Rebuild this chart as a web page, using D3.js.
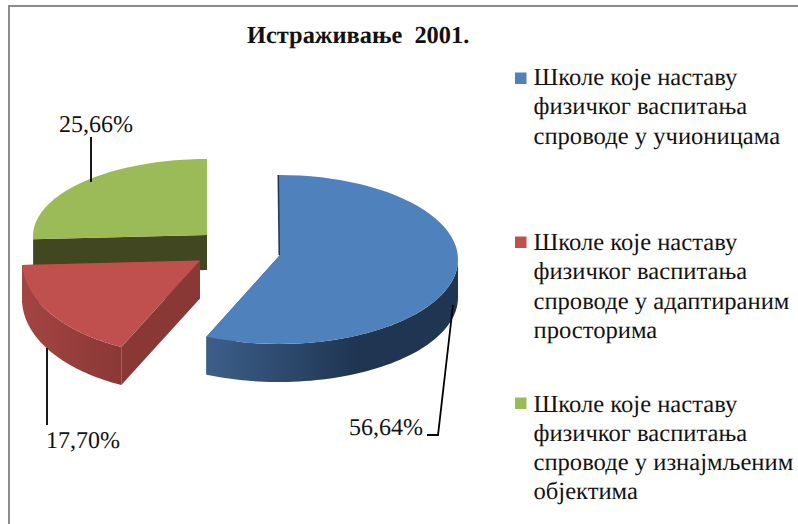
<!DOCTYPE html>
<html><head><meta charset="utf-8">
<script src="https://cdn.jsdelivr.net/npm/d3@7"></script>
<style>html,body{margin:0;padding:0;background:#fff}svg{display:block}text{font-family:"Liberation Serif","Times New Roman",serif;fill:#111;text-rendering:geometricPrecision}</style>
</head><body><svg id="c" width="798" height="524"></svg>
<script>
const chartTitle = "Истраживање  2001.";
const categories = ["Учионице", "Адаптирани простори", "Изнајмљени објекти"];
const seriesValues = [56.64, 17.70, 25.66];
const valueLabels = ["56,64%", "17,70%", "25,66%"];
const legendLines = [
  ["Школе које наставу", "физичког васпитања", "спроводе у учионицама"],
  ["Школе које наставу", "физичког васпитања", "спроводе у адаптираним", "просторима"],
  ["Школе које наставу", "физичког васпитања", "спроводе у изнајмљеним", "објектима"]
];
const topColors = ["#4f81bd", "#c0504d", "#9bbb59"];
const cutColors = ["#1f3552", "#8a3836", "#404721"];

const geom = [
  {cx:279, cy:259.5, apexX:280, apexY:255, rx:179, ry:84.5, depth:38, sliver:3},
  {cx:189, cy:261, apexX:200, apexY:260.5, rx:167, ry:94, depth:38, sliver:0},
  {cx:207, cy:236, apexX:207, apexY:235, rx:174, ry:77, depth:35, sliver:0}
];
const rimStops = [
  [["0%","#3c5f8a"],["60%","#1f3552"],["100%","#1f3552"]],
  [["0%","#a34542"],["100%","#8a3836"]],
  [["0%","#404721"],["100%","#404721"]]
];
const legendY = [78.5, 242.5, 403.5];
const legendTextY = [85, 250, 411.5];
const leaders = [
  [[453,305],[438,435],[427,435]],
  [[47,348],[47,425]],
  [[91,137],[91,182]]
];
const labelPos = [[349,435],[46,448],[59,132]];

const svg = d3.select("#c");
svg.append("rect").attr("x",9).attr("y",6).attr("width",800).attr("height",540)
  .attr("fill","#fff").attr("stroke","#8c8c8c").attr("stroke-width",2);

const pie = d3.pie().sort(null).value(d=>d);
const arcs = pie(seriesValues);
const line = d3.line();
const defs = svg.append("defs");
const pt = (g,a,dy=0)=>[g.cx+g.rx*Math.sin(a), g.cy-g.ry*Math.cos(a)+dy];
const apex = (g,dy=0)=>[g.apexX,g.apexY+dy];
const sweep = (g,a0,a1,dy=0)=>d3.range(0,61).map(i=>pt(g,a0+(a1-a0)*i/60,dy));

rimStops.forEach((st,i)=>{
  const lg = defs.append("linearGradient").attr("id","rim"+i);
  st.forEach(s=>lg.append("stop").attr("offset",s[0]).attr("stop-color",s[1]));
});

// back-to-front: green, blue, red
[2,0,1].forEach(i=>{
  const g = geom[i], a = arcs[i], G = svg.append("g");
  const a0=a.startAngle, a1=a.endAngle;
  [a0,a1].forEach(e=>{
    G.append("path").attr("fill",cutColors[i])
      .attr("d",line([apex(g),pt(g,e),pt(g,e,g.depth),apex(g,g.depth)])+"Z");
  });
  if(g.sliver){
    G.append("path").attr("fill","none").attr("stroke",cutColors[i]).attr("stroke-width",g.sliver)
      .attr("d",line([pt(g,a0),apex(g)]));
  }
  const f0=Math.max(a0,Math.PI/2), f1=Math.min(a1,Math.PI*1.5);
  if(f1>f0){
    G.append("path").attr("fill",`url(#rim${i})`)
      .attr("d",line(sweep(g,f1,f0).concat(sweep(g,f0,f1,g.depth)))+"Z");
  }
  G.append("path").attr("fill",topColors[i])
    .attr("d",line([apex(g)].concat(sweep(g,a0,a1)))+"Z");
});

leaders.forEach(l=>svg.append("path").attr("d",line(l)).attr("fill","none")
  .attr("stroke","#000").attr("stroke-width",1.8));
valueLabels.forEach((t,i)=>svg.append("text").attr("x",labelPos[i][0]).attr("y",labelPos[i][1])
  .attr("font-size",24).text(t));

svg.append("text").attr("x",247).attr("y",43).attr("font-size",24.4).attr("font-weight","bold")
  .style("white-space","pre").text(chartTitle);

legendLines.forEach((ls,i)=>{
  svg.append("rect").attr("x",515).attr("y",legendY[i]-6).attr("width",11.5).attr("height",11.5).attr("fill",topColors[i]);
  ls.forEach((t,j)=>svg.append("text").attr("x",533.5).attr("y",legendTextY[i]+j*29.3)
    .attr("font-size",24.6).text(t));
});
</script></body></html>
